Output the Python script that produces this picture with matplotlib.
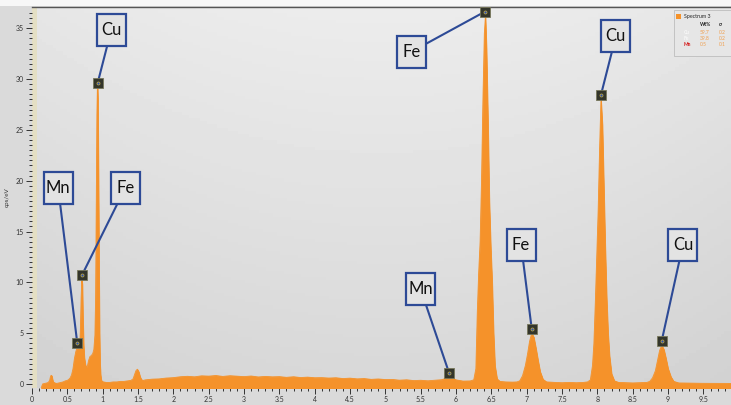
import numpy as np
import matplotlib
matplotlib.use('Agg')
import matplotlib.pyplot as plt
from matplotlib.patches import Rectangle

# EDS spectrum read as (energy keV, cps/eV) points, split by region
low_e = [0.13, 0.15, 0.18, 0.21, 0.23, 0.25, 0.26, 0.27, 0.28, 0.29,
         0.30, 0.32, 0.35, 0.38, 0.41, 0.44, 0.47, 0.50, 0.52, 0.54,
         0.56, 0.58, 0.60, 0.62, 0.64, 0.66, 0.675, 0.685, 0.695, 0.705,
         0.712, 0.72, 0.73, 0.74, 0.755, 0.77, 0.785, 0.80, 0.82, 0.84,
         0.86, 0.875, 0.89, 0.90, 0.91, 0.918, 0.925, 0.932, 0.94, 0.948,
         0.955, 0.962, 0.97, 0.98, 0.99, 1.01, 1.05, 1.10, 1.15, 1.20,
         1.25, 1.30, 1.35, 1.40, 1.43, 1.45, 1.47, 1.49, 1.51, 1.53,
         1.55, 1.58]
low_cps = [-0.4, 0.0, 0.05, 0.1, 0.15, 0.35, 0.7, 0.85, 0.8, 0.45,
           0.2, 0.1, 0.05, 0.1, 0.15, 0.2, 0.3, 0.35, 0.45, 0.6,
           0.9, 1.5, 2.5, 3.2, 3.6, 3.5, 3.6, 5.5, 8.5, 10.3,
           9.8, 6.5, 3.8, 2.6, 1.9, 1.6, 1.8, 2.3, 2.7, 2.8,
           3.0, 3.4, 4.8, 8.5, 18.5, 26.5, 29.2, 28.0, 20.0, 11.0,
           5.0, 2.0, 0.9, 0.4, 0.25, 0.2, 0.15, 0.15, 0.2, 0.2,
           0.25, 0.25, 0.3, 0.35, 0.5, 0.9, 1.3, 1.45, 1.2, 0.7,
           0.4, 0.35]

cont_e = [1.6, 1.7, 1.8, 1.9, 2.0, 2.1, 2.2, 2.3, 2.4, 2.5,
          2.6, 2.7, 2.8, 2.9, 3.0, 3.1, 3.2, 3.3, 3.4, 3.5,
          3.6, 3.7, 3.8, 3.9, 4.0, 4.1, 4.2, 4.3, 4.4, 4.5,
          4.6, 4.7, 4.8, 4.9, 5.0, 5.1, 5.2, 5.3, 5.4, 5.5,
          5.6, 5.7, 5.8, 5.85, 5.9, 5.95, 6.0, 6.1, 6.2]
cont_cps = [0.40, 0.47, 0.50, 0.58, 0.62, 0.71, 0.75, 0.70, 0.80, 0.77,
            0.83, 0.74, 0.81, 0.77, 0.72, 0.78, 0.69, 0.74, 0.70, 0.72,
            0.65, 0.71, 0.63, 0.67, 0.61, 0.62, 0.58, 0.61, 0.53, 0.57,
            0.50, 0.53, 0.45, 0.49, 0.43, 0.44, 0.37, 0.41, 0.33, 0.36,
            0.31, 0.36, 0.42, 0.55, 0.66, 0.55, 0.40, 0.28, 0.30]

k_e = [6.25, 6.28, 6.30, 6.32, 6.34, 6.36, 6.38, 6.40, 6.415, 6.43,
       6.45, 6.47, 6.49, 6.51, 6.53, 6.55, 6.58, 6.62, 6.70, 6.80,
       6.86, 6.90, 6.94, 6.98, 7.01, 7.04, 7.07, 7.10, 7.13, 7.16,
       7.19, 7.23, 7.28, 7.40, 7.50, 7.60, 7.70, 7.80, 7.86, 7.90,
       7.93, 7.95, 7.97, 7.99, 8.01, 8.03, 8.05, 8.07, 8.09, 8.11,
       8.13, 8.15, 8.17, 8.20, 8.24, 8.30, 8.40, 8.50, 8.60, 8.70,
       8.74, 8.78, 8.82, 8.85, 8.88, 8.91, 8.94, 8.97, 9.00, 9.04,
       9.08, 9.15, 9.30, 9.50, 9.70, 9.90]
k_cps = [0.4, 1.5, 7.0, 11.0, 14.0, 20.0, 28.0, 34.5, 36.2, 33.0,
         26.0, 18.0, 13.5, 10.0, 5.0, 1.8, 0.5, 0.25, 0.2, 0.18,
         0.2, 0.3, 0.8, 1.8, 2.9, 4.2, 5.0, 4.6, 3.5, 2.3,
         1.2, 0.45, 0.2, 0.15, 0.12, 0.15, 0.12, 0.15, 0.2, 0.4,
         1.8, 4.0, 8.0, 12.5, 17.0, 23.0, 28.0, 25.5, 19.5, 13.5,
         8.5, 5.0, 2.8, 1.0, 0.3, 0.15, 0.12, 0.1, 0.12, 0.15,
         0.25, 0.6, 1.3, 2.3, 3.3, 3.8, 3.4, 2.5, 1.5, 0.7,
         0.25, 0.1, 0.08, 0.06, 0.05, 0.05]

# identified lines
line_label = ['Mn', 'Fe', 'Cu', 'Mn', 'Fe', 'Fe', 'Cu', 'Cu']
line_energy = [0.64, 0.71, 0.93, 5.90, 6.41, 7.07, 8.05, 8.91]
# label box centres (keV, cps)
label_xy = [(0.37, 19.3), (1.32, 19.3), (1.12, 34.8), (5.50, 9.3),
            (5.37, 32.7), (6.92, 13.7), (8.26, 34.2), (9.21, 13.7)]

quant_el = ['Cu', 'Fe', 'Mn']
quant_wt = [59.7, 39.8, 0.5]
quant_sigma = [0.2, 0.2, 0.1]

energy = np.concatenate([low_e, cont_e, k_e])
cps = np.concatenate([low_cps, cont_cps, k_cps])

W, H = 731, 405
fig = plt.figure(figsize=(W / 100, H / 100), dpi=100)
fig.patch.set_facecolor('#dadada')
plt.rcParams['font.family'] = ['Lato', 'DejaVu Sans']

ax = fig.add_axes([32 / W, 17 / H, 699 / W, 381 / H])
ax.set_xlim(0, 9.89)
ax.set_ylim(-0.4, 37.1)

# soft grey background, lighter towards the top centre
gx, gy = np.meshgrid(np.linspace(-1, 1, 200), np.linspace(0, 1, 120))
shade = 0.845 + 0.08 * gy - 0.025 * gx ** 2
ax.imshow(shade, cmap='gray', vmin=0, vmax=1, extent=(0, 1, 0, 1),
          transform=ax.transAxes, aspect='auto', origin='lower', zorder=0)
ax.add_patch(Rectangle((0, 0), 5 / 699, 1, transform=ax.transAxes,
                       facecolor='#e4dfc4', edgecolor='none', zorder=1))

orange = '#f5922a'
ax.fill_between(energy, cps, -1, color=orange, lw=0.6, zorder=2)
ax.plot(energy, cps, color=orange, lw=0.6, zorder=2)

# pixel -> data scale for the fixed-size label boxes
p0 = ax.transData.transform((0, 0))
p1 = ax.transData.transform((1, 1))
sx, sy = p1[0] - p0[0], p1[1] - p0[1]
bw, bh = 29 / sx, 32 / sy
navy = '#2d4a96'

for lab, e, (tx, ty) in zip(line_label, line_energy, label_xy):
    near = np.abs(energy - e) < 0.025
    my = cps[near].max() + 0.45
    # connector clipped at the box edge
    dx, dy = (e - tx) * sx, (my - ty) * sy
    t = min(14.5 / abs(dx) if dx else 1e9, 16 / abs(dy) if dy else 1e9)
    ax.plot([tx + t * (e - tx), e], [ty + t * (my - ty), my], color=navy,
            lw=1.5, zorder=4, clip_on=False)
    ax.add_patch(Rectangle((tx - bw / 2, ty - bh / 2), bw, bh,
                           facecolor='#e3e3e3', edgecolor=navy, lw=1.6,
                           zorder=5, clip_on=False))
    ax.text(tx, ty, lab, ha='center', va='center', fontsize=12,
            color='#111111', zorder=6)
    ax.plot(e, my, marker='s', ms=6.5, mfc='#33352b', mec='#77775a',
            mew=0.6, zorder=7, clip_on=False)
    ax.plot(e, my, marker='o', ms=2.2, mfc='#2d4fb0', mec='#c8b040',
            mew=0.5, zorder=8, clip_on=False)

ax.set_xticks(np.arange(0, 9.6, 0.5))
ax.set_xticklabels(['%g' % v for v in np.arange(0, 9.6, 0.5)])
ax.set_xticks(np.arange(0, 9.9, 0.1), minor=True)
ax.set_yticks(range(0, 36, 5))
ax.set_yticks(np.arange(0, 37, 0.5), minor=True)
ax.tick_params(which='both', direction='out', colors='#333333',
               labelsize=5, width=0.7, pad=2)
ax.tick_params(which='major', length=4)
ax.tick_params(which='minor', length=2)
ax.set_ylabel('cps/eV', fontsize=4.5, color='#333333', labelpad=4)

for side in ['left', 'right', 'bottom']:
    ax.spines[side].set_visible(False)
ax.spines['top'].set_color('#555555')
ax.spines['top'].set_linewidth(1.0)

# white strip above the plot
fig.patches.append(Rectangle((0, 1 - 6 / H), 1, 6 / H, transform=fig.transFigure,
                             facecolor='#f7f7f7', edgecolor='none'))

# quantification box
fx = lambda px: px / W
fy = lambda py: 1 - py / H
fig.patches.append(Rectangle((fx(674), fy(56)), fx(57), 46 / H,
                             transform=fig.transFigure, facecolor='#e6e6e6',
                             edgecolor='#bdbdbd', lw=0.6, zorder=10))
fig.patches.append(Rectangle((fx(676), fy(19)), fx(5), 5 / H,
                             transform=fig.transFigure, facecolor=orange,
                             edgecolor='none', zorder=11))
fig.text(fx(684), fy(16.5), 'Spectrum 3', fontsize=3.8, va='center',
         color='#222222', zorder=12)
fig.text(fx(700), fy(25), 'Wt%', fontsize=3.6, va='center', weight='bold',
         color='#222222', zorder=12)
fig.text(fx(719), fy(25), 'σ', fontsize=3.6, va='center', weight='bold',
         color='#222222', zorder=12)
for i, (el, wt, sg) in enumerate(zip(quant_el, quant_wt, quant_sigma)):
    yy = fy(33 + 5.7 * i)
    fig.text(fx(684), yy, el, fontsize=3.6, va='center', zorder=12,
             color='#d42020' if el == 'Mn' else '#f8f8f8', weight='bold')
    fig.text(fx(700), yy, '%.1f' % wt, fontsize=3.6, va='center',
             color='#f0a050', zorder=12)
    fig.text(fx(719), yy, '%.1f' % sg, fontsize=3.6, va='center',
             color='#f0a050', zorder=12)

fig.savefig('out.png', dpi=100, facecolor=fig.get_facecolor())
